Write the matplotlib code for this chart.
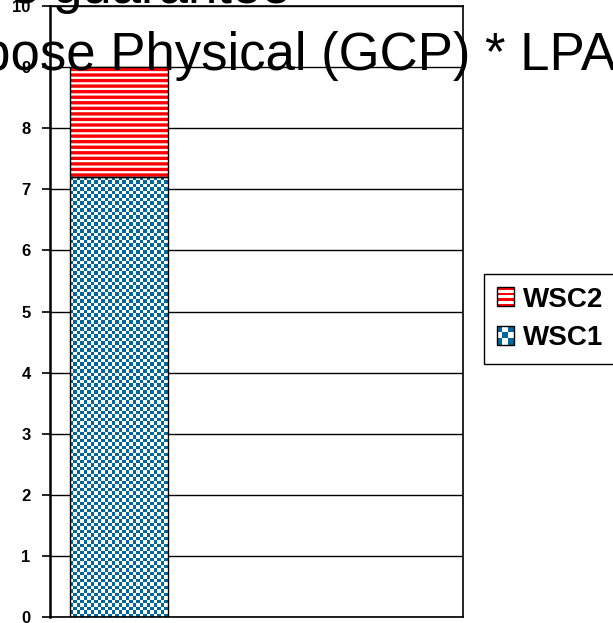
import numpy as np
import matplotlib
matplotlib.use('Agg')
import matplotlib.pyplot as plt
from matplotlib.colors import ListedColormap
from matplotlib.patches import Rectangle
from matplotlib.legend_handler import HandlerBase

plt.rcParams['font.family'] = ['Liberation Sans', 'DejaVu Sans']
plt.rcParams['hatch.linewidth'] = 2.4

# data
categories = ['']
wsc1 = [7.2]
wsc2 = [1.8]
series_names = ['WSC1', 'WSC2']
y_ticks = list(range(0, 11))
title_line1 = 's guarantee'
title_line2 = 'Purpose Physical (GCP) * LPA'

BLUE = '#00669e'
RED = '#ff0000'


class CheckerHandler(HandlerBase):
    """Legend key drawn as a small blue/white checker board."""
    def create_artists(self, legend, orig_handle, xdescent, ydescent,
                       width, height, fontsize, trans):
        n = 3
        x0, y0 = -xdescent, -ydescent
        cw, ch = width / n, height / n
        artists = [Rectangle((x0, y0), width, height, facecolor='white',
                             edgecolor='none', transform=trans)]
        for i in range(n):
            for j in range(n):
                if (i + j) % 2 == 0:
                    artists.append(Rectangle((x0 + i * cw, y0 + j * ch), cw, ch,
                                             facecolor=BLUE, edgecolor='none',
                                             transform=trans))
        artists.append(Rectangle((x0, y0), width, height, facecolor='none',
                                 edgecolor='black', lw=1.0, transform=trans))
        return artists


class StripeHandler(HandlerBase):
    """Legend key with red horizontal stripes."""
    def create_artists(self, legend, orig_handle, xdescent, ydescent,
                       width, height, fontsize, trans):
        x0, y0 = -xdescent, -ydescent
        n = 7
        ch = height / n
        artists = [Rectangle((x0, y0), width, height, facecolor='white',
                             edgecolor='none', transform=trans)]
        for j in range(n):
            if j % 2 == 0:
                artists.append(Rectangle((x0, y0 + j * ch), width, ch,
                                         facecolor=RED, edgecolor='none',
                                         transform=trans))
        artists.append(Rectangle((x0, y0), width, height, facecolor='none',
                                 edgecolor='black', lw=1.0, transform=trans))
        return artists


fig = plt.figure(figsize=(6.13, 6.23), dpi=100)
ax = fig.add_axes([50 / 613, 1 - 617 / 623, 413 / 613, 611 / 623])

x = np.arange(len(categories))
bar_w = 0.71

# WSC1 - white base, checker pattern drawn on top and clipped to the bar
base1 = ax.bar(x, wsc1, bar_w, color='white', lw=0, zorder=2)
# WSC2 - red horizontal stripes via hatch
ax.bar(x, wsc2, bar_w, bottom=wsc1, facecolor='white', edgecolor=RED,
       hatch='---', lw=0, zorder=2)

ax.set_xlim(-0.5, 2.5)
ax.set_ylim(0, 10)
ax.set_yticks(y_ticks)
ax.set_xticks([])

# checker board for WSC1
fig.canvas.draw()
for rect in base1.patches:
    bx, by = rect.get_x(), rect.get_y()
    bw, bh = rect.get_width(), rect.get_height()
    p0 = ax.transData.transform((bx, by))
    p1 = ax.transData.transform((bx + bw, by + bh))
    nx = max(1, int(round((p1[0] - p0[0]) / 3.5)))
    ny = max(1, int(round((p1[1] - p0[1]) / 3.5)))
    ii, jj = np.indices((ny, nx))
    board = ((ii + jj) % 2).astype(float)
    im = ax.imshow(board, extent=(bx, bx + bw, by, by + bh), origin='lower',
                   cmap=ListedColormap(['white', BLUE]), interpolation='nearest',
                   aspect='auto', zorder=2.5)
    im.set_clip_path(rect)

# black outlines for both segments
ax.bar(x, wsc1, bar_w, fill=False, edgecolor='black', lw=1.0, zorder=3)
ax.bar(x, wsc2, bar_w, bottom=wsc1, fill=False, edgecolor='black', lw=1.0, zorder=3)

ax.grid(axis='y', color='black', lw=1.0, zorder=1)
ax.set_axisbelow(True)
for s in ax.spines.values():
    s.set_color('black')
    s.set_linewidth(1.2)
ax.spines['left'].set_linewidth(1.8)
ax.tick_params(axis='y', direction='out', length=6, width=1.2, pad=8,
               labelsize=12)
for lbl in ax.get_yticklabels():
    lbl.set_fontweight('bold')

# title (cropped in the original image)
fig.text(12 / 613, 1 - 3 / 623, title_line1, fontsize=38, ha='left',
         va='baseline', zorder=10)
fig.text(-101 / 613, 1 - 70 / 623, title_line2, fontsize=38, ha='left',
         va='baseline', zorder=10)

h1 = Rectangle((0, 0), 1, 1)
h2 = Rectangle((0, 0), 1, 1)
leg = fig.legend([h2, h1], [series_names[1], series_names[0]],
                 handler_map={h1: CheckerHandler(), h2: StripeHandler()},
                 loc='upper left', bbox_to_anchor=(484 / 613, 1 - 274 / 623),
                 frameon=True, fancybox=False, framealpha=1, edgecolor='black',
                 prop={'weight': 'bold', 'size': 20}, handlelength=0.62,
                 handleheight=0.68, handletextpad=0.32, labelspacing=0.45,
                 borderpad=0.45, borderaxespad=0)
leg.get_frame().set_linewidth(1.0)

fig.savefig('out.png', dpi=100)
